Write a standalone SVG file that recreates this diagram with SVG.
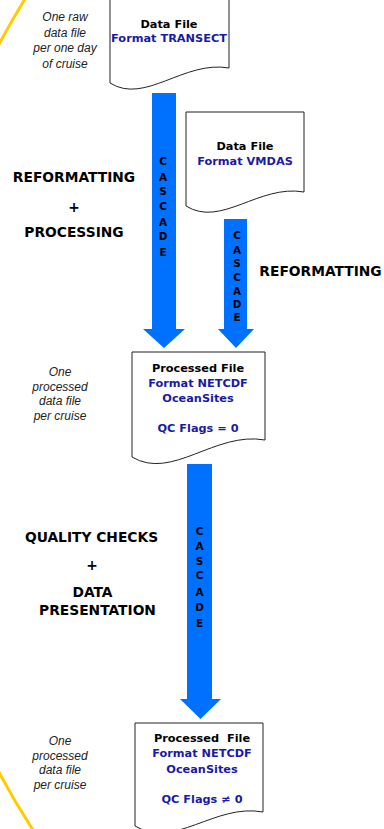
<svg xmlns="http://www.w3.org/2000/svg" width="384" height="829" viewBox="0 0 384 829">
<style>
.doc{fill:#fff;stroke:#222;stroke-width:1}
.t{font-family:"DejaVu Sans",Verdana,sans-serif;font-weight:bold;font-size:11.3px;text-anchor:middle}
.k{fill:#000}
.b{fill:#1a1aa6}
.lab{font-family:"DejaVu Sans",Verdana,sans-serif;font-weight:bold;font-size:13.8px;text-anchor:middle;fill:#000}
.it{font-family:"Liberation Sans",Arial,sans-serif;font-style:italic;font-size:12px;text-anchor:middle;fill:#222}
.arr{fill:#0070ff}
.cas{font-family:"DejaVu Sans",Verdana,sans-serif;font-weight:bold;font-size:10.5px;text-anchor:middle;fill:#000}
</style>
<rect width="384" height="829" fill="#fff"/>
<path d="M25,-1 A776,776 0 0 0 33,830" fill="none" stroke="#ffcc00" stroke-width="3"/>

<g id="connectors">
  <polygon class="arr" points="152,93 176,93 176,329 185,329 164,348 143,329 152,329"/>
  <polygon class="arr" points="224,219 247,219 247,329 254,329 236,348 218,329 224,329"/>
  <polygon class="arr" points="187,464 212,464 212,699 221,699 200.5,719 180,699 187,699"/>
  <g class="cas">
    <text x="163" y="165">C</text><text x="163" y="181">A</text><text x="163" y="195">S</text><text x="163" y="210">C</text><text x="163" y="226">A</text><text x="163" y="240">D</text><text x="163" y="256">E</text>
    <text x="237" y="239">C</text><text x="237" y="254">A</text><text x="237" y="267">S</text><text x="237" y="281">C</text><text x="237" y="295">A</text><text x="237" y="308">D</text><text x="237" y="321">E</text>
    <text x="199.5" y="535">C</text><text x="199.5" y="550">A</text><text x="199.5" y="565">S</text><text x="199.5" y="579">C</text><text x="199.5" y="596">A</text><text x="199.5" y="611">D</text><text x="199.5" y="627">E</text>
  </g>
</g>

<g id="node-transect">
  <path class="doc" d="M110,-5 L229,-5 L229,68 C184,60 145,105 110,83 Z"/>
  <text class="t k" x="169" y="28">Data File</text>
  <text class="t b" x="169" y="42">Format TRANSECT</text>
</g>
<g id="note-raw">
  <text class="it" x="65" y="21">One raw</text>
  <text class="it" x="65" y="36.5">data file</text>
  <text class="it" x="65" y="52">per one day</text>
  <text class="it" x="65" y="67.5">of cruise</text>
</g>

<g id="node-vmdas">
  <path class="doc" d="M186,112 L304,112 L304,192 C259,184 221,228 186,206 Z"/>
  <text class="t k" x="245" y="150">Data File</text>
  <text class="t b" x="245" y="165">Format VMDAS</text>
</g>

<g id="label-reformat-processing">
  <text class="lab" x="74" y="182">REFORMATTING</text>
  <text class="lab" x="74" y="212">+</text>
  <text class="lab" x="74" y="237">PROCESSING</text>
</g>
<g id="label-reformat">
  <text class="lab" x="320.5" y="276">REFORMATTING</text>
</g>

<g id="node-processed0">
  <path class="doc" d="M132,352 L265,352 L265,440 C215,431 172,481 132,457 Z"/>
  <text class="t k" x="198" y="372">Processed File</text>
  <text class="t b" x="198" y="387">Format NETCDF</text>
  <text class="t b" x="198" y="402">OceanSites</text>
  <text class="t b" x="198" y="432">QC Flags = 0</text>
</g>
<g id="note-processed0">
  <text class="it" x="60" y="376">One</text>
  <text class="it" x="60" y="391">processed</text>
  <text class="it" x="60" y="405">data file</text>
  <text class="it" x="60" y="420">per cruise</text>
</g>

<g id="label-qc">
  <text class="lab" x="91.5" y="542">QUALITY CHECKS</text>
  <text class="lab" x="92" y="570">+</text>
  <text class="lab" x="92.5" y="597">DATA</text>
  <text class="lab" x="97.5" y="615">PRESENTATION</text>
</g>

<g id="node-processed1">
  <path class="doc" d="M135,723 L263,723 L263,812 C215,803 174,850 135,826 Z"/>
  <text class="t k" x="202" y="742" xml:space="preserve">Processed  File</text>
  <text class="t b" x="202" y="757">Format NETCDF</text>
  <text class="t b" x="202" y="773">OceanSites</text>
  <text class="t b" x="202" y="803">QC Flags ≠ 0</text>
</g>
<g id="note-processed1">
  <text class="it" x="60" y="745">One</text>
  <text class="it" x="60" y="760">processed</text>
  <text class="it" x="60" y="774">data file</text>
  <text class="it" x="60" y="789">per cruise</text>
</g>
</svg>
